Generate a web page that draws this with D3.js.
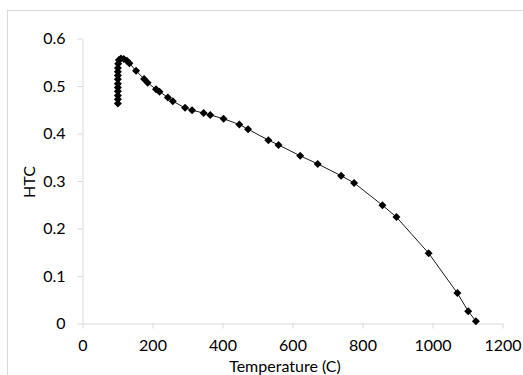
<!DOCTYPE html>
<html>
<head>
<meta charset="utf-8">
<script src="https://cdn.jsdelivr.net/npm/d3@7"></script>
<style>
  html, body { margin: 0; padding: 0; background: #fff; }
  svg { display: block; }
  .axis path, .axis line { stroke: #d9d9d9; }
  .axis text { font-family: Lato, 'Open Sans', sans-serif; font-size: 16px; fill: #000; }
</style>
</head>
<body>
<svg id="chart" width="523" height="375"></svg>
<script>
// ── Data ──────────────────────────────────────────────────────────────────────
const temps = [101, 101, 101, 101, 101, 101, 101, 101, 101, 101, 102, 104, 110, 118, 127, 134,
  153, 176, 186, 210, 220, 244, 258, 293, 313, 346, 365, 403, 448, 473, 531, 560, 622, 672,
  739, 776, 857, 897, 989, 1071, 1102, 1124];
const htc = [0.463, 0.472, 0.480, 0.489, 0.497, 0.505, 0.514, 0.522, 0.530, 0.538, 0.547, 0.555,
  0.558, 0.557, 0.553, 0.548, 0.532, 0.515, 0.507, 0.493, 0.488, 0.476, 0.468, 0.454, 0.449,
  0.443, 0.439, 0.431, 0.419, 0.409, 0.386, 0.376, 0.353, 0.336, 0.311, 0.296, 0.249, 0.224,
  0.148, 0.064, 0.026, 0.005];
const xTicks = [0, 200, 400, 600, 800, 1000, 1200];
const yTicks = [0, 0.1, 0.2, 0.3, 0.4, 0.5, 0.6];

const data = temps.map((t, i) => ({ t, h: htc[i] }));

// ── Chart ─────────────────────────────────────────────────────────────────────
const svg = d3.select('#chart');
const font = 'Lato, "Open Sans", sans-serif';

// chart area frame (runs off the right and bottom edges)
svg.append('rect')
  .attr('x', 7.5).attr('y', 10.5)
  .attr('width', 530).attr('height', 380)
  .attr('fill', 'none')
  .attr('stroke', '#d9d9d9');

const x = d3.scaleLinear().domain([0, 1200]).range([82.5, 502.5]);
const y = d3.scaleLinear().domain([0, 0.6]).range([323.5, 38.5]);

// Axes
svg.append('g')
  .attr('class', 'axis')
  .attr('transform', `translate(0,${y(0)})`)
  .call(d3.axisBottom(x).tickValues(xTicks).tickSize(5).tickSizeOuter(0).tickPadding(11).tickFormat(d3.format('d')));

svg.append('g')
  .attr('class', 'axis')
  .attr('transform', `translate(${x(0)},0)`)
  .call(d3.axisLeft(y).tickValues(yTicks).tickSize(5).tickSizeOuter(0).tickPadding(12)
    .tickFormat(d => d === 0 ? '0' : d.toFixed(1)));

// Line
const line = d3.line().x(d => x(d.t)).y(d => y(d.h));
svg.append('path')
  .datum(data)
  .attr('d', line)
  .attr('fill', 'none')
  .attr('stroke', '#1a1a1a')
  .attr('stroke-width', 1);

// Diamond markers
const diamond = d3.symbol().type(d3.symbolSquare).size(32);
svg.append('g')
  .selectAll('path')
  .data(data)
  .join('path')
  .attr('d', diamond)
  .attr('transform', d => `translate(${x(d.t)},${y(d.h)}) rotate(45)`)
  .attr('fill', '#000');

// Axis titles
svg.append('text')
  .attr('x', 285).attr('y', 372)
  .attr('text-anchor', 'middle')
  .attr('font-family', font)
  .attr('font-size', 16)
  .text('Temperature (C)');

svg.append('text')
  .attr('text-anchor', 'middle')
  .attr('transform', 'translate(35,182) rotate(-90)')
  .attr('font-family', font)
  .attr('font-size', 16)
  .text('HTC');
</script>
</body>
</html>
